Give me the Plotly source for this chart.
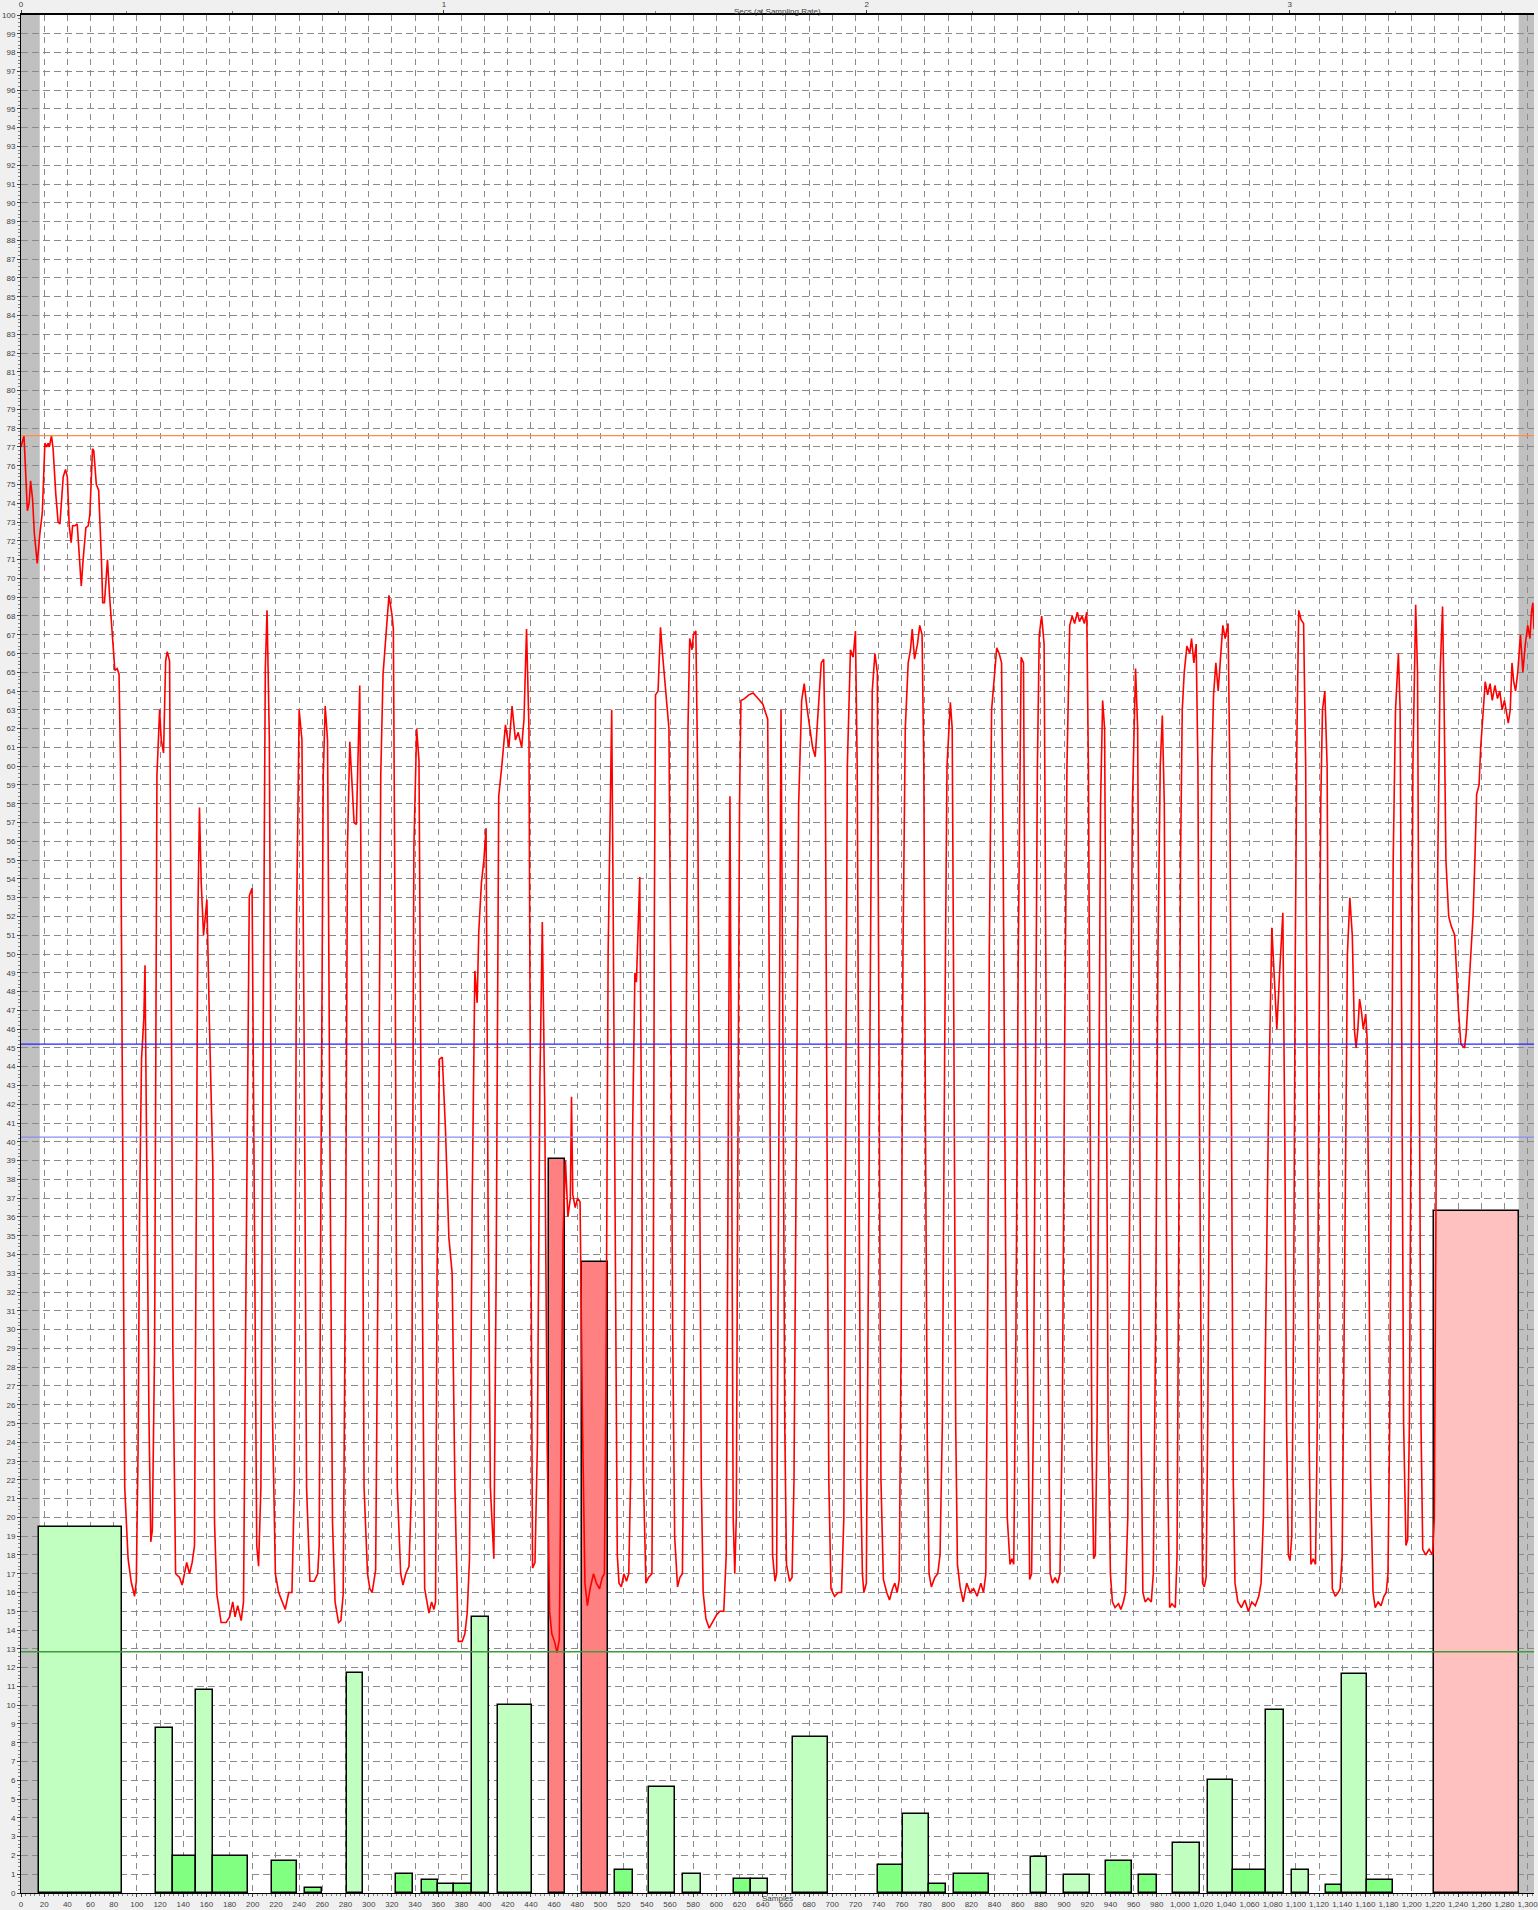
import plotly.graph_objects as go

# ---------------- data ----------------
sample_idx = [0,2.6,5.5,7,8.3,10,11.5,14,16.3,18.4,20.6,22,23.5,24.5,26.3,27.7,30,32,33.6,36.4,38.4,40,41.6,43.3,44.5,46.5,48.5,49.6,52,53.6,56,58,59.4,61.7,62.8,65,67,69.4,70.5,72,74.6,76.6,79,81,83,84.6,85.8,87.5,89.5,92.4,95,98,99.5,101,102.4,104,106,107,108.7,110.4,112,113.3,115.3,117.3,119.6,121,123,124.8,126.2,128.2,129.7,131,133.4,136.8,139,141,143,145.4,147.7,149.7,151,152.6,154,155.5,157.5,159,160.4,162.6,165.5,167,169,172.7,177,180,182.7,184.7,187,190,192,194.2,197,199.4,201.4,203.4,205,207,208.5,210.8,212.3,214.3,217,219.5,222.3,225.8,228,231,233.8,235.8,237.8,240,242.4,244.4,246.4,249.3,253,256,257.3,258.7,260.8,262.5,264.5,266.5,268.8,271,274,276,278,280.3,281.7,283.7,285.4,287.4,289.4,291,292.3,294,296,299,301,303,306,308,310.4,312.4,315.3,317.5,320,321.3,322.7,324.7,327.6,329.6,332,334.8,337,339,341.4,343.4,345.7,348.3,352,354.3,356.3,357.7,359,361,363.5,366.3,369.2,372,374.4,377.3,380.7,383,385,387,389.3,391.6,393.6,395,397.3,399.4,401.3,403,405,408,410,412.2,415,418,421,423.7,426.6,429,
    432,434,436.2,438.3,440,441.4,443.5,445.6,447.7,449.8,451.9,454,456.1,458,460.3,462.5,464.5,466,467.7,469.8,471.9,474,475,476.1,478.2,480.3,482.4,484.5,486.6,488.7,491,494,496.5,499.2,501.5,503.4,505,506.6,509.7,511,512.9,514.5,516,518,520.2,522.5,524.4,526,527.6,529.7,531,533.9,535.5,537.1,539.2,541.5,544.4,545.5,546.5,547.5,549.7,551.8,553.5,555,557,559.1,560.5,562.3,564,566.5,568.5,570.7,572,573.8,575.5,577,579,580.2,582.3,583.8,585.4,587,588.6,591,593.8,597,600.1,603,606.4,608.5,610,611.7,613.2,614.5,615.9,617.2,618.6,620,621.2,624.3,628,631.7,636,640.1,644.3,645.5,646.8,648.5,650.6,652,653.5,655.8,657.5,659,660.5,663.2,665.3,667,669,671,673.6,675.8,678,681,683,685.3,688,690.5,692.6,694,695.5,697,698.9,702,705.2,708,710,711.5,713,715.7,718,720,721.5,723,724.5,726,727.3,729.4,730.8,732.5,734.5,736.8,738.9,740.3,742,744.1,747,749.4,752,754,756,757.8,759.5,761,763,765.5,767.5,769,771,773.5,775.5,777.5,779,780.5,782,783.5,785.5,788.5,791,793,795,797,799,801.9,803.5,805,806.5,808,810.3,813,816,819,822,825,828.2,830.5,832.5,834,835.5,837.5,841.9,844,846.1,847.5,849.2,851,853.4,855,856.6,858.5,860.5,863,865,866.5,868.2,870.3,872,873.5,875.5,877,878.6,880.7,882.8,884.5,886,888,890,892.3,894.5,896.5,898.5,900.5,902.5,904.9,907,909.1,911.5,913.3,915.5,917.5,919.6,921,922.5,924,925.5,927,928.5,930,931.5,933.3,935,936.5,938,940,941.7,944,947,949,951.2,953,955,957,959,961.7,963.5,965,966.5,968,970,972.5,975.3,977,979,981,983,984.8,986.5,988,989.5,991.1,993,996,997.5,999,1000.5,1002,1003.7,1006,1008.5,1010,1012,1014,1015.5,1017,1018.5,1019.5,1021,1022.6,1024,1025.8,1027.5,1029,1031,1033,1035,1037,1039,1041.5,1043,1044.5,1046,1047.5,1050,1053,1056,1059,1062,1065,1068,1070,1072,1074,1076.5,1079.3,1081,1083.6,1086,1088.8,1090.5,1092,1093.5,1095,1096.5,1098,1099.5,1101,1102.5,1104.5,1106.7,1108.5,1110,1111.5,1113,1115,1117,1118.5,1120,1121.5,1123,1125,1127,1128.5,1130,1131.5,1134,1136.5,1138.2,1140,1141.5,1143,1144.5,1146.6,1148.7,1150.5,1152,1153.5,1155,1156.5,1158.2,1160.3,1161.5,1163,1164.5,1166.6,1168.5,1171,1173.5,1176,1178,1179.5,1181,1182.5,1184,1186,1188.5,1190,1191.5,1193,1195,1196.5,1198,1199.5,1201,1203.4,1205,1206.5,1208,1209.5,1212,1215,1218,1219.5,1221,1222.5,1224.5,1226.6,1228,1229.5,1231.9,1234,1237.1,1240.3,1242.4,1245.6,1247,1248.7,1250.8,1252.9,1254.5,1256,1258.1,1259.5,1261.2,1263.4,1265.5,1267.6,1269.5,1271.8,1274,1276,1278,1280,1283.3,1285,1286.5,1288,1289.6,1291.5,1293.8,1295.9,1298,1300.1,1302,1303.3,1304.5,1305.5]
signal = [77.0,77.6,73.6,74.0,75.2,74.2,72.4,70.8,72.4,73.5,77.2,77.0,77.2,77.0,77.6,76.9,74.5,73.0,72.9,75.4,75.8,75.4,72.8,71.9,72.8,72.8,72.9,72.0,69.6,71.0,72.7,72.8,73.4,76.9,76.8,75.0,74.7,71.0,68.7,68.7,71.0,68.9,66.5,65.1,65.2,64.9,60.3,44.4,21.6,17.8,16.6,15.8,16.6,23.5,36.8,44.4,46.6,49.4,36.8,25.4,18.7,19.3,29.2,59.5,63.0,61.4,60.7,65.6,66.1,65.6,48.2,29.2,17.0,16.8,16.4,17.0,17.6,17.0,17.6,18.5,33.0,52.0,57.8,53.8,51.0,52.0,52.9,46.3,38.7,19.7,15.9,14.4,14.4,14.7,15.5,14.7,15.3,14.5,15.5,33.0,53.1,53.5,36.8,18.5,17.4,21.6,40.6,65.2,68.3,61.4,25.4,17.0,16.0,15.5,15.1,16.0,16.0,21.6,52.0,63.0,61.4,44.4,21.6,16.6,16.6,17.0,18.5,36.8,59.5,63.2,61.4,40.6,19.7,15.5,14.4,14.5,15.9,36.8,55.7,61.3,59.5,57.0,56.9,61.4,64.3,48.2,21.6,17.0,16.2,16.0,17.2,33.0,59.5,64.9,67.1,69.1,68.1,67.3,52.0,21.6,17.0,16.4,17.0,17.4,21.6,55.7,62.0,60.3,36.8,16.2,14.9,15.5,15.1,15.5,33.0,44.4,44.5,40.6,34.9,33.0,21.6,13.4,13.4,13.8,14.9,17.8,36.8,49.1,47.4,51.2,53.8,55.0,56.7,36.8,21.6,17.8,33.0,58.4,60.1,62.2,61.0,63.2,61.4,61.8,
    61.0,62.5,67.3,62.0,35.0,17.3,17.6,24.0,43.0,51.7,42.0,24.0,15.0,13.8,13.4,12.8,13.5,22.0,35.0,39.0,36.0,37.0,42.4,37.2,36.5,37.0,36.8,25.0,16.5,15.3,16.2,17.0,16.5,16.2,16.8,17.0,30.0,50.0,63.0,52.0,30.0,18.0,16.5,16.3,17.0,16.6,17.0,22.0,40.0,49.0,48.5,54.1,40.0,22.0,16.5,16.8,17.0,30.0,52.0,63.8,64.0,67.4,66.0,65.0,63.5,62.0,50.0,30.0,19.0,16.3,16.8,17.0,25.0,45.0,62.0,66.8,66.2,67.0,67.2,60.0,40.0,22.0,16.0,14.6,14.1,14.5,14.8,15.0,15.0,18.0,40.0,58.4,40.0,20.0,17.0,20.0,40.0,58.0,63.5,63.6,63.8,63.9,63.6,63.3,62.5,50.0,30.0,18.0,16.6,17.0,35.0,63.0,45.0,25.0,17.5,16.6,16.8,22.0,40.0,58.0,63.5,64.4,63.2,62.0,61.0,60.5,63.0,65.5,65.7,60.0,40.0,22.0,16.2,15.8,16.0,16.0,20.0,40.0,60.0,66.2,65.8,67.2,60.0,40.0,22.0,17.0,16.0,16.5,30.0,50.0,64.0,66.0,65.0,45.0,22.0,16.7,16.0,15.6,16.2,16.5,16.0,16.7,30.0,50.0,62.0,65.5,66.2,67.3,65.7,66.5,67.5,67.0,60.0,40.0,24.0,17.0,16.3,16.8,17.0,18.0,25.0,45.0,60.0,63.4,62.0,45.0,25.0,17.5,16.3,15.5,16.5,16.0,16.2,15.8,16.5,16.0,17.0,30.0,50.0,63.0,66.3,66.0,65.5,55.0,35.0,20.0,17.5,17.8,17.5,30.0,50.0,65.8,65.5,50.0,30.0,16.7,17.0,25.0,45.0,60.0,67.0,68.0,66.5,50.0,30.0,17.0,16.5,16.8,16.5,17.0,25.0,45.0,60.0,67.5,68.0,67.6,68.2,67.7,68.0,67.6,68.2,60.0,40.0,24.0,17.8,18.0,25.0,45.0,58.0,63.5,62.0,45.0,25.0,17.0,15.5,15.2,15.4,15.1,15.5,16.0,20.0,40.0,58.0,65.2,62.0,45.0,25.0,16.0,15.5,15.7,15.5,17.0,30.0,50.0,60.0,62.7,58.0,40.0,22.0,15.2,15.4,15.2,18.0,35.0,55.0,63.0,65.0,66.4,66.0,66.8,65.5,66.5,60.0,40.0,22.0,16.5,16.3,16.8,25.0,45.0,60.0,63.8,65.5,64.0,66.0,67.5,66.8,67.6,60.0,40.0,22.0,16.5,15.5,15.2,15.6,15.0,15.5,15.3,15.8,16.5,20.0,30.0,42.0,51.4,49.0,46.0,49.0,52.2,40.0,25.0,18.0,17.7,19.0,30.0,50.0,62.0,68.3,67.8,67.6,60.0,40.0,24.0,17.5,17.8,17.5,25.0,45.0,58.0,63.0,64.0,60.0,40.0,22.0,16.2,15.8,16.0,16.2,18.0,30.0,42.0,50.0,53.0,51.0,46.0,45.0,46.0,47.6,47.0,46.0,46.8,45.5,35.0,22.0,16.0,15.2,15.5,15.3,15.8,16.0,17.0,25.0,40.0,55.0,63.0,66.0,63.0,45.0,25.0,18.5,18.8,25.0,45.0,60.0,68.6,65.0,45.0,25.0,18.3,18.0,18.3,18.0,20.0,35.0,55.0,65.0,68.5,63.0,55.0,52.0,51.5,51.0,47.0,45.2,45.0,45.8,47.5,50.0,52.0,55.0,58.5,59.0,61.0,62.5,64.5,63.8,64.4,63.5,64.3,63.6,64.0,63.0,63.5,62.3,63.0,65.5,64.5,64.0,65.0,67.0,65.0,66.5,67.5,66.8,68.2,68.7,67.3]

bar_start = [15.5,116.8,131,151,165.5,216.6,245.3,281,323.9,345.7,360,373.5,389.2,412,455.2,484,512.6,542,571,615,629.8,666.5,739.3,761,783.7,805.4,871.6,900,936.6,965,994.2,1023.8,1045.6,1074.3,1096.4,1125.6,1140,1161.8,1218.8]
bar_end = [87.5,131,151,165.5,195.6,238,259.6,295.5,338.5,360,373.5,389,404,440.5,469.5,506.6,528,564.2,586.4,629.8,644.6,696.2,761,783.7,798,835.1,885.6,922,958.4,980.5,1017,1045.6,1074.3,1089.8,1111.3,1140,1161.8,1183.6,1292.3]
bar_height = [19.5,8.8,1.95,10.8,1.95,1.7,0.25,11.7,1.0,0.7,0.5,0.5,14.7,10.0,39.1,33.6,1.22,5.66,0.99,0.72,0.72,8.3,1.47,4.2,0.47,0.99,1.93,0.98,1.68,0.98,2.68,6.03,1.2,9.73,1.2,0.44,11.67,0.71,36.3]
bar_kind = ["light","light","bright","light","bright","bright","bright","light","bright","bright","light","bright","light","light","red","red","bright","light","light","bright","light","light","bright","light","bright","bright","light","light","bright","bright","light","light","bright","light","light","bright","light","bright","pink"]
kind_color = {"light": "#C0FFC0", "bright": "#80FF80", "red": "#FF8080", "pink": "#FFC0C0"}

threshold_values = [77.6, 45.2, 40.25, 12.85]
threshold_colors = ["#FF8C4A", "#2323FF", "#8C8CF0", "#3C9C3C"]

excluded_start = [0, 1292.3]
excluded_end = [16.2, 1305.5]

x_range = [0, 1305.5]
samples_per_second = 364.9
sec_ticks = [0, 1, 2, 3]

# ---------------- figure ----------------
fig = go.Figure()

centers = [(a + b) / 2 for a, b in zip(bar_start, bar_end)]
widths = [b - a for a, b in zip(bar_start, bar_end)]
fig.add_trace(go.Bar(
    x=centers, y=bar_height, width=widths,
    marker=dict(color=[kind_color[k] for k in bar_kind],
                line=dict(color="#000000", width=1.5)),
    hoverinfo="skip", showlegend=False))

fig.add_trace(go.Scatter(
    x=sample_idx, y=signal, mode="lines",
    line=dict(color="#FF0000", width=1.6), showlegend=False))

fig.add_trace(go.Scatter(x=[0, x_range[1] / samples_per_second], y=[None, None],
                         xaxis="x2", mode="lines", showlegend=False))

for v, c in zip(threshold_values, threshold_colors):
    fig.add_shape(type="line", xref="paper", x0=0, x1=1, yref="y", y0=v, y1=v,
                  line=dict(color=c, width=1.4), layer="above")

for a, b in zip(excluded_start, excluded_end):
    fig.add_shape(type="rect", xref="x", x0=a, x1=b, yref="paper", y0=0, y1=1,
                  fillcolor="#C0C0C0", line=dict(width=0), layer="below")

FONT = "Liberation Sans, Arial, sans-serif"
tickfont = dict(family=FONT, size=8, color="#404040")
grid_color = "#8A8A8A"

fig.update_layout(
    width=1538, height=1910,
    margin=dict(l=21, r=0, t=15, b=17),
    paper_bgcolor="#F0F0F0", plot_bgcolor="#FFFFFF",
    bargap=0,
    xaxis=dict(range=x_range, dtick=20, tick0=0, tickformat=",d", tickangle=0,
               ticklabeloverflow="allow",
               showgrid=True, gridcolor=grid_color, griddash="6px,5px", gridwidth=1,
               ticks="outside", ticklen=3, tickcolor="#404040",
               minor=dict(dtick=4, ticks="outside", ticklen=2, tickcolor="#808080", showgrid=False),
               showline=True, linecolor="#000000", linewidth=1,
               tickfont=tickfont, zeroline=False),
    xaxis2=dict(overlaying="x", side="top", range=[0, x_range[1] / samples_per_second],
                tickvals=sec_ticks, ticks="outside", ticklen=3, tickcolor="#404040",
                minor=dict(dtick=0.25, ticks="outside", ticklen=2, tickcolor="#808080"),
                showgrid=False, showline=True, linecolor="#000000", linewidth=2,
                tickfont=tickfont, zeroline=False),
    yaxis=dict(range=[0, 100], dtick=1, tick0=0,
               showgrid=True, gridcolor=grid_color, griddash="7px,4px", gridwidth=1,
               ticks="outside", ticklen=3, tickcolor="#404040",
               minor=dict(dtick=0.2, ticks="outside", ticklen=2, tickcolor="#808080", showgrid=False),
               showline=True, linecolor="#000000", linewidth=1,
               tickfont=tickfont, zeroline=False),
)

fig.add_annotation(text="Secs (at Sampling Rate)", xref="paper", yref="paper",
                   x=0.5, y=1, yshift=10, showarrow=False,
                   font=dict(family=FONT, size=8, color="#404040"))
fig.add_annotation(text="Samples", xref="paper", yref="paper",
                   x=0.5, y=0, yshift=-12, showarrow=False,
                   font=dict(family=FONT, size=8, color="#404040"))

fig.write_html("out.html", config={"displayModeBar": False},
               post_script="document.body.style.margin='0';")
